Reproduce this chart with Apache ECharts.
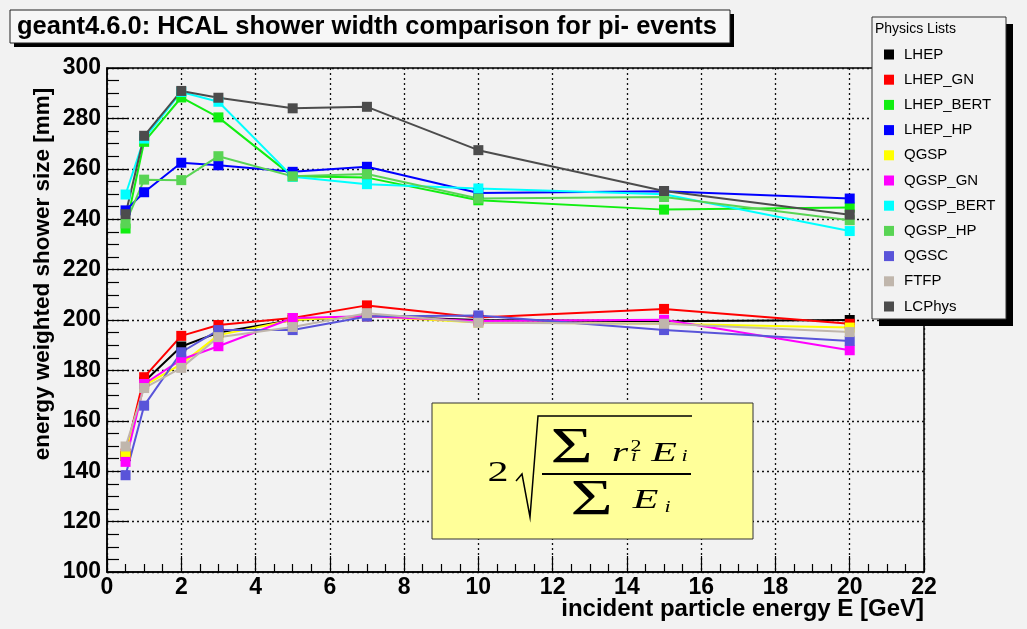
<!DOCTYPE html>
<html>
<head>
<meta charset="utf-8">
<script src="https://cdn.jsdelivr.net/npm/echarts@6/dist/echarts.min.js"></script>
<style>
  html, body { margin: 0; padding: 0; background: #f2f2f2; }
  #chart { width: 1027px; height: 629px; }
</style>
</head>
<body>
<div id="chart"></div>
<script>
// Incident pi- energies [GeV]
const energies = [0.5, 1, 2, 3, 5, 7, 10, 15, 20];

// Physics lists and their marker colours
const physicsLists = ['LHEP', 'LHEP_GN', 'LHEP_BERT', 'LHEP_HP', 'QGSP', 'QGSP_GN',
                      'QGSP_BERT', 'QGSP_HP', 'QGSC', 'FTFP', 'LCPhys'];
const listColors = ['#000000', '#ff0000', '#11ee11', '#0000ff', '#ffff00', '#ff00ff',
                    '#00ffff', '#59d454', '#5954d9', '#c0b6ac', '#4c4c4c'];

// Energy weighted shower size [mm] per physics list
const LHEP      = [146.0, 175.5, 189.5, 195.0, 200.0, 201.5, 200.0, 199.5, 200.0];
const LHEP_GN   = [147.0, 177.3, 193.7, 198.0, 200.8, 205.8, 201.0, 204.4, 198.5];
const LHEP_BERT = [236.3, 270.7, 288.3, 280.4, 257.0, 256.5, 247.5, 243.8, 244.6];
const LHEP_HP   = [243.5, 250.7, 262.4, 261.4, 258.8, 260.8, 250.4, 251.1, 248.2];
const QGSP      = [146.5, 174.0, 182.5, 194.0, 200.0, 201.5, 199.0, 198.5, 197.0];
const QGSP_GN   = [143.7, 174.6, 184.3, 189.6, 200.8, 201.5, 199.6, 200.1, 188.0];
const QGSP_BERT = [249.8, 272.0, 290.5, 286.6, 256.8, 253.9, 252.2, 249.9, 235.3];
const QGSP_HP   = [238.3, 255.7, 255.5, 265.0, 257.0, 257.9, 248.2, 248.8, 239.6];
const QGSC      = [138.4, 166.0, 187.2, 196.0, 196.0, 201.4, 201.8, 196.0, 191.7];
const FTFP      = [149.8, 173.0, 181.0, 193.2, 197.2, 202.7, 198.9, 198.5, 195.2];
const LCPhys    = [242.0, 273.1, 290.9, 288.2, 284.0, 284.6, 267.4, 251.2, 241.8];

const seriesValues = [LHEP, LHEP_GN, LHEP_BERT, LHEP_HP, QGSP, QGSP_GN,
                      QGSP_BERT, QGSP_HP, QGSC, FTFP, LCPhys];

// Axis ranges and labels
const xRange = { min: 0, max: 22, step: 2 };
const yRange = { min: 100, max: 300, step: 20 };
const titleText = 'geant4.6.0: HCAL shower width comparison for pi- events';
const xTitle = 'incident particle energy E [GeV]';
const yTitle = 'energy weighted shower size [mm]';
const legendTitle = 'Physics Lists';

const SANS = "'Liberation Sans', Arial, Helvetica, sans-serif";
const SERIF = "'Liberation Serif', 'Times New Roman', serif";

const chart = echarts.init(document.getElementById('chart'), null, { renderer: 'canvas' });

const series = physicsLists.map((name, i) => ({
  name: name,
  type: 'line',
  data: energies.map((e, j) => [e, seriesValues[i][j]]),
  symbol: 'rect',
  symbolSize: 10,
  showAllSymbol: true,
  itemStyle: { color: listColors[i] },
  lineStyle: { color: listColors[i], width: 2 },
  emphasis: { disabled: true },
  animation: false
}));

const gridLine = { show: true, lineStyle: { color: '#111', width: 1.3, type: [2, 3] } };

// Pieces of the shower width formula: 2 sqrt( sum r_i^2 E_i / sum E_i )
function glyph(text, x, y, size, opts) {
  opts = opts || {};
  return {
    type: 'text', x: x, y: y, z: 6,
    scaleX: opts.sx || 1.5,
    style: {
      text: text, x: 0, y: 0,
      fill: '#000',
      font: (opts.italic ? 'italic ' : '') + size + 'px ' + SERIF,
      align: 'center', verticalAlign: 'middle'
    }
  };
}

const formula = [
  { type: 'rect', z: 5, shape: { x: 432, y: 403, width: 321, height: 136 },
    style: { fill: '#ffff99', stroke: '#333', lineWidth: 1 } },
  glyph('2', 498, 473, 29, { sx: 1.45 }),
  { type: 'polyline', z: 6,
    shape: { points: [[516, 481], [522, 474], [530, 517], [538, 416], [692, 416]] },
    style: { stroke: '#000', lineWidth: 1.5, fill: null } },
  { type: 'rect', z: 6, shape: { x: 542, y: 473, width: 149, height: 2 }, style: { fill: '#000' } },
  glyph('\u03A3', 571.5, 448.5, 50, { sx: 1.45 }),
  glyph('r', 620, 454, 28, { italic: true }),
  glyph('2', 636, 447, 17, { sx: 1.3 }),
  glyph('i', 634, 457, 17, { italic: true, sx: 1.3 }),
  glyph('E', 664, 454, 28, { italic: true }),
  glyph('i', 684.5, 457, 17, { italic: true, sx: 1.3 }),
  glyph('\u03A3', 591.5, 501, 50, { sx: 1.45 }),
  glyph('E', 645.5, 501, 28, { italic: true }),
  glyph('i', 667.5, 508, 17, { italic: true, sx: 1.3 })
];

const option = {
  animation: false,
  backgroundColor: '#f2f2f2',
  grid: {
    left: 107, top: 68, right: 103, bottom: 57,
    show: true, borderColor: '#000', borderWidth: 1.5, backgroundColor: 'transparent'
  },
  xAxis: {
    type: 'value', min: xRange.min, max: xRange.max, interval: xRange.step,
    axisLine: { show: true, onZero: false, lineStyle: { color: '#000', width: 1.5 } },
    axisTick: { show: true, inside: true, length: 16, lineStyle: { color: '#000', width: 1.2 } },
    minorTick: { show: true, splitNumber: 4, length: 8, lineStyle: { color: '#000', width: 1.2 } },
    splitLine: gridLine,
    axisLabel: { margin: 4, color: '#000', fontFamily: SANS, fontWeight: 'bold', fontSize: 23 }
  },
  yAxis: {
    type: 'value', min: yRange.min, max: yRange.max, interval: yRange.step,
    axisLine: { show: true, onZero: false, lineStyle: { color: '#000', width: 1.5 } },
    axisTick: { show: true, inside: true, length: 22, lineStyle: { color: '#000', width: 1.2 } },
    minorTick: { show: true, splitNumber: 4, length: 12, lineStyle: { color: '#000', width: 1.2 } },
    splitLine: gridLine,
    axisLabel: { margin: 6, color: '#000', fontFamily: SANS, fontWeight: 'bold', fontSize: 23 }
  },
  legend: {
    data: physicsLists,
    orient: 'vertical',
    left: 884, top: 47,
    padding: 0,
    icon: 'rect',
    itemWidth: 10, itemHeight: 10,
    itemGap: 10.2,
    selectedMode: false,
    textStyle: { color: '#000', fontFamily: SANS, fontSize: 15, lineHeight: 15, padding: [0, 0, 0, 5] }
  },
  graphic: [
    // title box with drop shadow
    { type: 'rect', z: 3, shape: { x: 14, y: 14, width: 720, height: 33 }, style: { fill: '#000' } },
    { type: 'rect', z: 3, shape: { x: 10, y: 10, width: 720, height: 33 },
      style: { fill: '#f7f7f7', stroke: '#222', lineWidth: 1 } },
    { type: 'text', z: 4, x: 17, y: 27,
      style: { text: titleText, fill: '#000', font: 'bold 25.5px ' + SANS, align: 'left', verticalAlign: 'middle' } },
    // legend frame with drop shadow
    { type: 'rect', z: 3, shape: { x: 879, y: 24, width: 134, height: 302 }, style: { fill: '#000' } },
    { type: 'rect', z: 3, shape: { x: 872, y: 17, width: 134, height: 302 },
      style: { fill: '#f2f2f2', stroke: '#333', lineWidth: 1 } },
    { type: 'text', z: 4, x: 875, y: 29,
      style: { text: legendTitle, fill: '#000', font: '14px ' + SANS, align: 'left', verticalAlign: 'middle' } },
    // axis titles
    { type: 'text', z: 4, x: 924, y: 609,
      style: { text: xTitle, fill: '#000', font: 'bold 24px ' + SANS, align: 'right', verticalAlign: 'middle' } },
    { type: 'text', z: 4, x: 43, y: 274, rotation: Math.PI / 2,
      style: { text: yTitle, fill: '#000', font: 'bold 22.5px ' + SANS, align: 'center', verticalAlign: 'middle' } }
  ].concat(formula),
  series: series
};

chart.setOption(option);
</script>
</body>
</html>
